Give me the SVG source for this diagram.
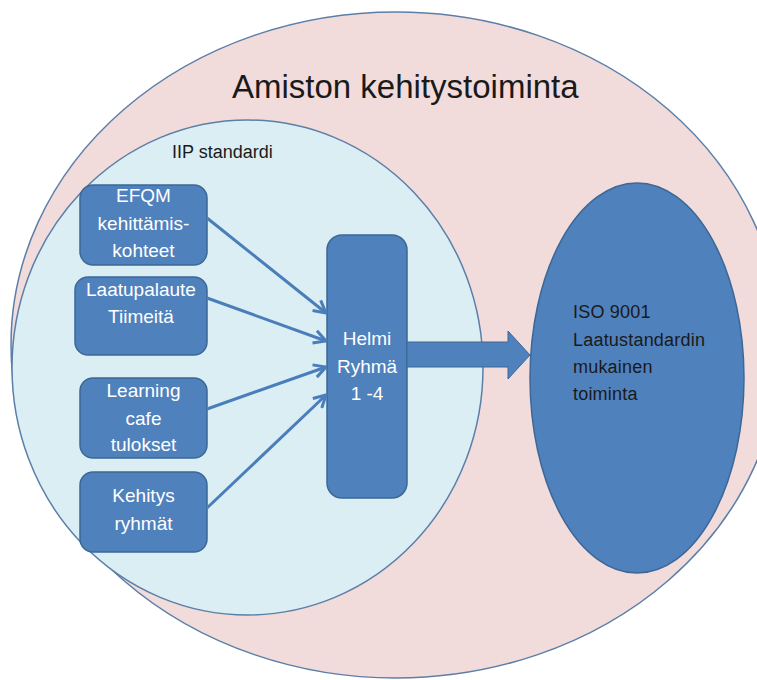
<svg xmlns="http://www.w3.org/2000/svg" width="757" height="680" viewBox="0 0 757 680">
<style>
.box{fill:#4f81bd;stroke:#3d6797;stroke-width:1.5}
.wt{fill:#ffffff;font-family:"Liberation Sans",Arial,sans-serif;font-size:19px;text-anchor:middle}
.dk{fill:#1a1a1a;font-family:"Liberation Sans",Arial,sans-serif}
.conn{stroke:#4a7ebb;stroke-width:3;fill:none}
</style>
<defs>
<marker id="ah" viewBox="0 0 14 16" refX="13" refY="8" markerWidth="14" markerHeight="16" markerUnits="userSpaceOnUse" orient="auto">
<path d="M1,1.5 L13,8 L1,14.5" fill="none" stroke="#4a7ebb" stroke-width="3"/>
</marker>
</defs>
<rect width="757" height="680" fill="#ffffff"/>
<g id="outer">
<ellipse cx="396" cy="345" rx="385" ry="333" fill="#f2dcdb" stroke="#5b7fa8" stroke-width="1.5"/>
<text class="dk" x="232" y="98" font-size="33">Amiston kehitystoiminta</text>
</g>
<g id="iip">
<ellipse cx="247.5" cy="367.5" rx="235.5" ry="247.5" fill="#dbeef4" stroke="#5b7fa8" stroke-width="1.5"/>
<text class="dk" x="172" y="158" font-size="18">IIP standardi</text>
</g>
<g id="iso">
<ellipse cx="637" cy="378" rx="107" ry="195" fill="#4f81bd" stroke="#3d6797" stroke-width="1.5"/>
<text class="dk" font-size="18" letter-spacing="0.2"><tspan x="573" y="318">ISO 9001</tspan><tspan x="573" y="346">Laatustandardin</tspan><tspan x="573" y="373">mukainen</tspan><tspan x="573" y="400">toiminta</tspan></text>
</g>
<g id="efqm">
<rect class="box" x="80" y="185" width="127" height="80" rx="13"/>
<text class="wt"><tspan x="143.5" y="202">EFQM</tspan><tspan x="143.5" y="230">kehittämis-</tspan><tspan x="143.5" y="257">kohteet</tspan></text>
</g>
<g id="laatupalaute">
<rect class="box" x="75" y="277" width="132" height="78" rx="13"/>
<text class="wt"><tspan x="141" y="296">Laatupalaute</tspan><tspan x="141" y="323">Tiimeitä</tspan></text>
</g>
<g id="learning">
<rect class="box" x="80" y="378" width="127" height="80" rx="13"/>
<text class="wt"><tspan x="143.5" y="397">Learning</tspan><tspan x="143.5" y="425">cafe</tspan><tspan x="143.5" y="451">tulokset</tspan></text>
</g>
<g id="kehitys">
<rect class="box" x="80" y="472" width="127" height="80" rx="13"/>
<text class="wt"><tspan x="143.5" y="502">Kehitys</tspan><tspan x="143.5" y="530">ryhmät</tspan></text>
</g>
<g id="helmi">
<rect class="box" x="327" y="235" width="80" height="263" rx="15"/>
<text class="wt" font-size="18"><tspan x="367" y="345">Helmi</tspan><tspan x="367" y="373">Ryhmä</tspan><tspan x="367" y="400">1 -4</tspan></text>
</g>
<g id="connectors">
<line class="conn" x1="207" y1="218" x2="326" y2="313" marker-end="url(#ah)"/>
<line class="conn" x1="207" y1="298" x2="326" y2="341" marker-end="url(#ah)"/>
<line class="conn" x1="207" y1="409" x2="326" y2="367" marker-end="url(#ah)"/>
<line class="conn" x1="207" y1="508" x2="326" y2="395" marker-end="url(#ah)"/>
<polygon points="407,342 508,342 508,331 530,355 508,379 508,367 407,367" fill="#4f81bd" stroke="#3d6797" stroke-width="1"/>
</g>
</svg>
